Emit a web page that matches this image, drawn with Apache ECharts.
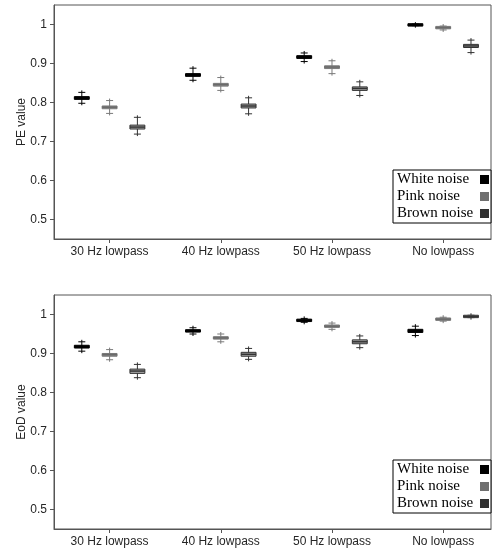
<!DOCTYPE html>
<html>
<head>
<meta charset="utf-8">
<script src="https://cdn.jsdelivr.net/npm/echarts@6/dist/echarts.min.js"></script>
<style>
html,body{margin:0;padding:0;background:#fff;}
#chart{width:493px;height:554px;}
</style>
</head>
<body>
<div id="chart"></div>
<script>
// categories and noise types
const categories = ["30 Hz lowpass", "40 Hz lowpass", "50 Hz lowpass", "No lowpass"];
const noiseNames = ["White noise", "Pink noise", "Brown noise"];
const yTicks = [0.5, 0.6, 0.7, 0.8, 0.9, 1];

// box stats per category: [min, q1, median, q3, max]
const peWhite = [[0.798, 0.808, 0.812, 0.815, 0.826], [0.857, 0.867, 0.871, 0.874, 0.888], [0.905, 0.913, 0.917, 0.920, 0.927], [0.997, 0.998, 0.999, 1.000, 1.001]];
const pePink = [[0.772, 0.784, 0.788, 0.791, 0.805], [0.831, 0.842, 0.846, 0.849, 0.864], [0.874, 0.887, 0.891, 0.894, 0.907], [0.986, 0.990, 0.992, 0.994, 0.996]];
const peBrown = [[0.719, 0.732, 0.737, 0.742, 0.762], [0.771, 0.786, 0.791, 0.796, 0.812], [0.818, 0.831, 0.836, 0.840, 0.853], [0.928, 0.941, 0.945, 0.949, 0.960]];

const eodWhite = [[0.906, 0.914, 0.918, 0.921, 0.930], [0.950, 0.955, 0.958, 0.961, 0.966], [0.980, 0.983, 0.985, 0.987, 0.990], [0.946, 0.954, 0.958, 0.962, 0.970]];
const eodPink = [[0.884, 0.893, 0.897, 0.900, 0.910], [0.930, 0.937, 0.940, 0.943, 0.950], [0.962, 0.967, 0.970, 0.973, 0.978], [0.983, 0.986, 0.988, 0.990, 0.993]];
const eodBrown = [[0.838, 0.849, 0.855, 0.860, 0.872], [0.885, 0.893, 0.898, 0.903, 0.913], [0.915, 0.925, 0.930, 0.935, 0.945], [0.992, 0.994, 0.995, 0.996, 0.998]];

const offsets = [-0.25, 0, 0.25];
const styles = [
    {fill: "#000", stroke: "#000", med: "#000", legend: "#000"},
    {fill: "#8a8a8a", stroke: "#7a7a7a", med: "#6a6a6a", legend: "#6f6f6f"},
    {fill: "#a8a8a8", stroke: "#333", med: "#333", legend: "#303030"}
];

function toData(stats, k){
    return stats.map(function(s, i){
        return [i + 1 + offsets[k]].concat(s);
    });
}

function makeRender(st){
    return function(params, api){
        let x = api.value(0);
        let pLo = api.coord([x, api.value(1)]);
        let pQ1 = api.coord([x, api.value(2)]);
        let pMed = api.coord([x, api.value(3)]);
        let pQ3 = api.coord([x, api.value(4)]);
        let pHi = api.coord([x, api.value(5)]);
        let hw = api.coord([x + 0.067, 0])[0] - pLo[0];
        let cx = pLo[0];
        let cap = 3.5;
        let boxTop = Math.min(pQ3[1], pMed[1] - 1.2);
        let boxBot = Math.max(pQ1[1], pMed[1] + 1.2);
        return {
            type: "group",
            children: [
                {type: "line", shape: {x1: cx, y1: pHi[1] - 2, x2: cx, y2: pLo[1] + 2}, style: {stroke: st.stroke, lineWidth: 1}},
                {type: "line", shape: {x1: cx - cap, y1: pHi[1], x2: cx + cap, y2: pHi[1]}, style: {stroke: st.stroke, lineWidth: 1}},
                {type: "line", shape: {x1: cx - cap, y1: pLo[1], x2: cx + cap, y2: pLo[1]}, style: {stroke: st.stroke, lineWidth: 1}},
                {type: "rect", shape: {x: cx - hw, y: boxTop, width: hw * 2, height: boxBot - boxTop}, style: {fill: st.fill, stroke: st.stroke, lineWidth: 1}},
                {type: "line", shape: {x1: cx - hw, y1: pMed[1], x2: cx + hw, y2: pMed[1]}, style: {stroke: st.med, lineWidth: 1.5}}
            ]
        };
    };
}

let myChart = echarts.init(document.getElementById("chart"));

const axisFont = {fontFamily: "Liberation Sans", fontSize: 12, color: "#262626"};
const lineStyle = {color: "#555", width: 1};

function xAxisFor(idx){
    return {
        type: "value", gridIndex: idx, min: 0.5, max: 4.43,
        axisLine: {show: true, lineStyle: lineStyle},
        axisTick: {show: true, inside: false, length: 4, lineStyle: lineStyle, customValues: [1, 2, 3, 4]},
        axisLabel: Object.assign({margin: 7, customValues: [1, 2, 3, 4], formatter: function(v){ return categories[Math.round(v) - 1]; }}, axisFont),
        splitLine: {show: false}
    };
}
function yAxisFor(idx, name){
    return {
        type: "value", gridIndex: idx, min: 0.45, max: 1.05,
        name: name, nameLocation: "middle", nameGap: 26, nameRotate: 90, nameMoveOverlap: false,
        nameTextStyle: {fontFamily: "Liberation Sans", fontSize: 12, color: "#262626"},
        axisLine: {show: true, lineStyle: lineStyle},
        axisTick: {show: true, inside: false, length: 4, lineStyle: lineStyle, customValues: yTicks},
        axisLabel: Object.assign({margin: 7, customValues: yTicks}, axisFont),
        splitLine: {show: false}
    };
}

let series = [];
const groups = [[peWhite, pePink, peBrown], [eodWhite, eodPink, eodBrown]];
groups.forEach(function(g, gi){
    g.forEach(function(stats, k){
        series.push({
            name: noiseNames[k],
            type: "custom",
            xAxisIndex: gi,
            yAxisIndex: gi,
            itemStyle: {color: styles[k].legend},
            renderItem: makeRender(styles[k]),
            encode: {x: 0, y: [1, 2, 3, 4, 5]},
            data: toData(stats, k),
            z: 3 - k
        });
    });
});

function legendFor(top){
    return {
        orient: "vertical", left: 393, top: top, align: "right",
        data: noiseNames, icon: "rect", itemWidth: 9, itemHeight: 9, itemGap: 2,
        padding: [2, 2, 2, 4], borderColor: "#000", borderWidth: 1, backgroundColor: "#fff",
        selectedMode: false,
        formatter: function(name){ return "{t|" + name + "}"; },
        textStyle: {
            fontFamily: "Liberation Serif", fontSize: 15, color: "#000",
            rich: {t: {fontFamily: "Liberation Serif", fontSize: 15, color: "#000", width: 78, align: "left"}}
        }
    };
}

myChart.setOption({
    animation: false,
    grid: [
        {left: 54, top: 5, right: 2, bottom: 315, show: true, borderColor: "#555", borderWidth: 1},
        {left: 54, top: 295, right: 2, bottom: 25, show: true, borderColor: "#555", borderWidth: 1}
    ],
    xAxis: [xAxisFor(0), xAxisFor(1)],
    yAxis: [yAxisFor(0, "PE value"), yAxisFor(1, "EoD value")],
    legend: [legendFor(170), legendFor(460)],
    series: series
});
</script>
</body>
</html>
